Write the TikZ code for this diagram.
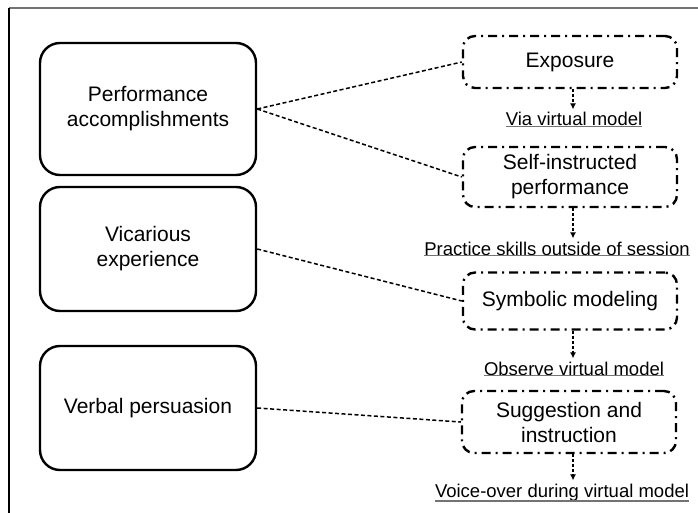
\documentclass[tikz,border=0pt]{standalone}
\usepackage{fontspec}
\setmainfont{Liberation Sans}
\usetikzlibrary{calc}
\usetikzlibrary{arrows.meta}
\tikzstyle{sourcebox}=[draw=black,line width=2.4pt,rounded corners=20pt,minimum width=216pt,align=center,font=\fontsize{21}{25}\selectfont]
\tikzstyle{methodbox}=[draw=black,line width=2.4pt,rounded corners=12pt,dash pattern=on 9pt off 5pt on 2pt off 5pt,minimum width=214pt,align=center,font=\fontsize{21}{25}\selectfont]
\tikzstyle{linktext}=[inner sep=0pt,font=\fontsize{18.5}{22}\selectfont]
\tikzstyle{link}=[line width=1.5pt,dash pattern=on 4pt off 2.5pt]
\tikzstyle{flow}=[line width=1.5pt,dash pattern=on 3pt off 2pt,-{Latex[length=6pt,width=6pt]},shorten >=3pt]
\tikzstyle{underline}=[line width=1.5pt,black!55]

\begin{document}
\begin{tikzpicture}[x=1pt,y=-1pt]
\useasboundingbox (0,0) rectangle (698,513);
% frame
\draw[line width=2pt,black!55] (9,8) -- (698,8);
\draw[line width=1.2pt] (9,8) -- (9,513);

% sources of self-efficacy
\node[sourcebox,minimum height=132pt] (perf) at (148,109) {Performance\\accomplishments};
\node[sourcebox,minimum height=124pt] (vic) at (148,249) {Vicarious\\experience};
\node[sourcebox,minimum height=124pt] (verb) at (148,408) {Verbal persuasion};

% treatment components
\node[methodbox,minimum height=52pt] (expo) at (570,62) {Exposure};
\node[methodbox,minimum height=60pt] (self) at (570,177) {Self-instructed\\performance};
\node[methodbox,minimum height=57pt] (symb) at (570,301) {Symbolic modeling};
\node[methodbox,minimum height=62pt] (sugg) at (569,422) {Suggestion and\\instruction};

% delivery
\node[linktext,anchor=base] (via) at (574,126) {Via virtual model};
\node[linktext,anchor=base] (prac) at (557,255) {Practice skills outside of session};
\node[linktext,anchor=base] (obs) at (574,375) {Observe virtual model};
\node[linktext,anchor=base] (voice) at (562,497) {Voice-over during virtual model};
\foreach \t in {via,prac,obs,voice}
  \draw[underline] (\t.south west) -- (\t.south east);

\draw[link] (perf.east) -- (expo.west);
\draw[link] (perf.east) -- (self.west);
\draw[link] (vic.east) -- (symb.west);
\draw[link] (verb.east) -- (sugg.west);

\draw[flow] ([xshift=3pt]expo.south) -- ([xshift=3pt]expo.south |- via.north);
\draw[flow] ([xshift=3pt]self.south) -- ([xshift=3pt]self.south |- prac.north);
\draw[flow] ([xshift=3pt]symb.south) -- ([xshift=3pt]symb.south |- obs.north);
\draw[flow] ([xshift=4pt]sugg.south) -- ([xshift=4pt]sugg.south |- voice.north);
\end{tikzpicture}
\end{document}
